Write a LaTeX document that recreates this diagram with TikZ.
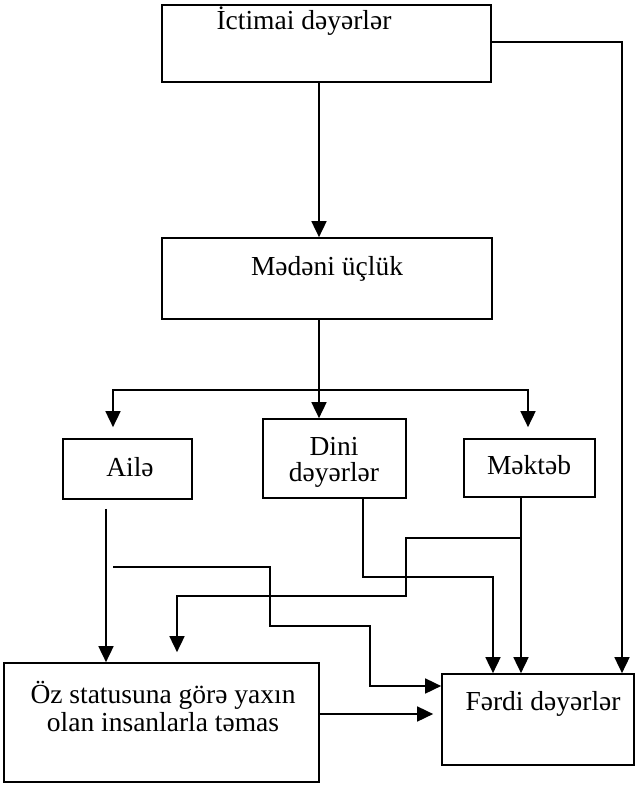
\documentclass[tikz,border=0pt]{standalone}
\usepackage{fontspec}
\setmainfont{Liberation Serif}
\usetikzlibrary{arrows.meta,calc}
\begin{document}
\begin{tikzpicture}[x=1pt,y=-1pt,
  box/.style={draw,line width=1.7pt,inner sep=0pt},
  txt/.style={anchor=base,inner sep=0pt,font=\fontsize{27.5}{30}\selectfont},
  ln/.style={line width=1.7pt},
  arr/.style={line width=1.7pt,-{Triangle[length=16pt,width=15pt]}}]
\useasboundingbox (0,0) rectangle (636,786);
% boxes
\node[box,minimum width=329pt,minimum height=77pt] (b1) at (326.5,43.5) {};
\node[box,minimum width=330pt,minimum height=81pt] (b2) at (327,278.5) {};
\node[box,minimum width=129pt,minimum height=60pt] (ail) at (127.5,469) {};
\node[box,minimum width=143pt,minimum height=79pt] (dini) at (334.5,458.5) {};
\node[box,minimum width=131pt,minimum height=58pt] (mek) at (529.5,468) {};
\node[box,minimum width=315pt,minimum height=119pt] (oz) at (161.5,722.5) {};
\node[box,minimum width=192pt,minimum height=91pt] (ferdi) at (538,719.5) {};
% texts
\node[txt] (t1) at (304,30) {İctimai dəyərlər};
\node[txt] (t2) at (327,275) {Mədəni üçlük};
\node[txt] (t3) at (130,476) {Ailə};
\node[txt] (t4a) at (334,455) {Dini};
\node[txt] (t4b) at (334,481) {dəyərlər};
\node[txt] (t5) at (529,474) {Məktəb};
\node[txt] (t6a) at (163,703) {Öz statusuna görə yaxın};
\node[txt] (t6b) at (163,731) {olan insanlarla təmas};
\node[txt] (t7) at (543,710) {Fərdi dəyərlər};
% helper coordinates
\coordinate (x106) at (106,0);
\coordinate (x113) at (113,0);
\coordinate (x177) at (177,0);
\coordinate (x270) at (270,0);
\coordinate (x319) at (319,0);
\coordinate (x363) at (363,0);
\coordinate (x370) at (370,0);
\coordinate (x406) at (406,0);
\coordinate (x493) at (493,0);
\coordinate (x521) at (521,0);
\coordinate (x528) at (528,0);
\coordinate (x622) at (622,0);
\coordinate (y42) at (0,42);
\coordinate (ybus) at (0,390);
\coordinate (y538) at (0,538);
\coordinate (y577) at (0,577);
\coordinate (y596) at (0,596);
\coordinate (y626) at (0,626);
\coordinate (y686) at (0,686);
\coordinate (y714) at (0,714);
\coordinate (free) at (113,567);
% connectors
\draw[arr] (b1.south -| x319) -- (b2.north -| x319);
\draw[arr] (b1.east |- y42) -| (ferdi.north -| x622);
\draw[ln] (b2.south -| x319) -- (x319 |- ybus);
\draw[arr] (x319 |- ybus) -- (dini.north -| x319);
\draw[arr] (x319 |- ybus) -| ($(ail.north -| x113)+(0,-11)$);
\draw[arr] (x319 |- ybus) -| ($(mek.north -| x528)+(0,-11)$);
\draw[arr] ($(ail.south -| x106)+(0,9)$) -- (oz.north -| x106);
\draw[arr] (dini.south -| x363) |- (x493 |- y577) -- (ferdi.north -| x493);
\draw[arr] (mek.south -| x521) -- (ferdi.north -| x521);
\draw[arr] (x521 |- y538) -| (x406 |- y596) -| ($(oz.north -| x177)+(0,-10)$);
\draw[arr] (free) -| (x270 |- y626) -| (x370 |- y686) -- (ferdi.west |- y686);
\draw[arr] (oz.east |- y714) -- ($(ferdi.west |- y714)+(-8,0)$);
\end{tikzpicture}
\end{document}
